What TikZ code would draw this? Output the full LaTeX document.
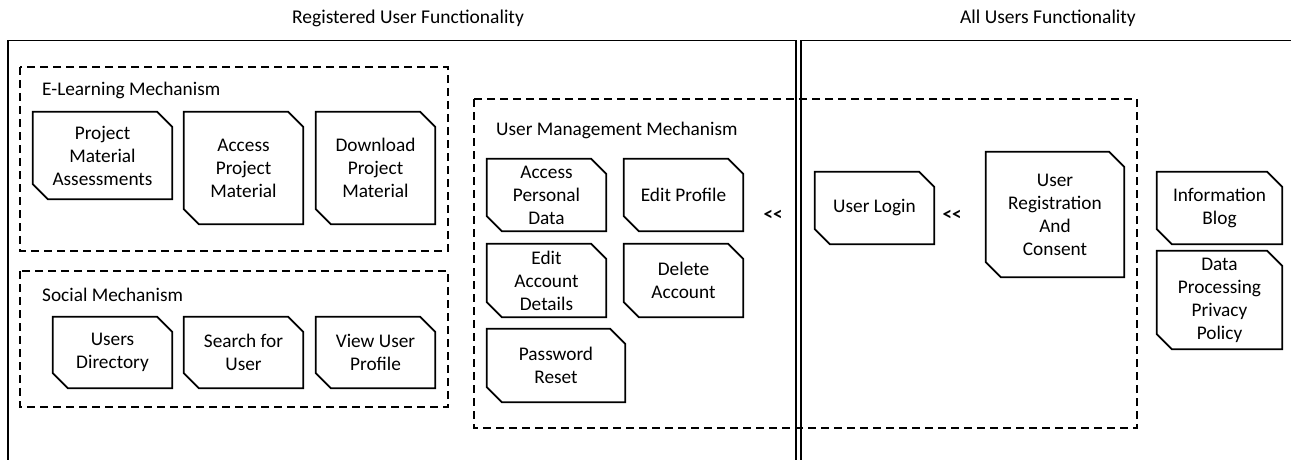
\documentclass[tikz,border=0pt]{standalone}
\usepackage{fontspec}
\setmainfont{Carlito}
\begin{document}
\begin{tikzpicture}[x=1pt,y=-1pt,
  card/.style={draw=none, align=center, inner sep=0pt, font=\fontsize{19.3}{23}\selectfont},
  cardline/.style={draw=black, line width=1.7pt, line join=miter},
  frame/.style={draw=black, line width=1.6pt},
  dashbox/.style={draw=black, line width=1.6pt, dash pattern=on 8pt off 5pt},
  lbl/.style={anchor=west, inner sep=0pt, font=\fontsize{19.3}{23}\selectfont},
  ttl/.style={inner sep=0pt, font=\fontsize{19.5}{23}\selectfont},
  sep/.style={inner sep=0pt, font=\bfseries\fontsize{19}{23}\selectfont}]
\useasboundingbox (0,0) rectangle (1291,460);
\clip (0,0) rectangle (1291,460);

% titles
\node[ttl] (t1) at (408,18) {Registered User Functionality};
\node[ttl] (t2) at (1048,18) {All Users Functionality};

% frames
\draw[frame] (8,470) -- (8,40.5) -- (796,40.5) -- (796,470);
\draw[frame] (801,470) -- (801,40.5) -- (1300,40.5);

% dashed containers
\draw[dashbox] (20,67) rectangle (448,251);
\draw[dashbox] (20,271) rectangle (448,407);
\draw[dashbox] (474,99) rectangle (1137,428);
\node[lbl] (l1) at (42,90) {E-Learning Mechanism};
\node[lbl] (l2) at (42,295) {Social Mechanism};
\node[lbl] (l3) at (496,130) {User Management Mechanism};

% E-learning
\node[card, minimum width=139, minimum height=87] (pma) at (102.5,155.5) {Project\\Material\\Assessments};
\node[card, minimum width=119, minimum height=112] (apm) at (243.5,168) {Access\\Project\\Material};
\node[card, minimum width=119, minimum height=112] (dpm) at (375.5,168) {Download\\Project\\Material};
% Social
\node[card, minimum width=119, minimum height=71] (ud) at (112.5,352.5) {Users\\Directory};
\node[card, minimum width=119, minimum height=71] (sfu) at (243.5,352.5) {Search for\\User};
\node[card, minimum width=119, minimum height=71] (vup) at (375.5,352.5) {View User\\Profile};
% User management
\node[card, minimum width=119, minimum height=72] (apd) at (546.5,195) {Access\\Personal\\Data};
\node[card, minimum width=119, minimum height=72] (ep) at (683.5,195) {Edit Profile};
\node[card, minimum width=119, minimum height=73] (ead) at (546.5,280.5) {Edit\\Account\\Details};
\node[card, minimum width=119, minimum height=73] (da) at (683.5,280.5) {Delete\\Account};
\node[card, minimum width=138, minimum height=73] (pr) at (556,365.5) {Password\\Reset};
% right side
\node[card, minimum width=119, minimum height=72] (ul) at (874.5,208) {User Login};
\node[card, minimum width=138, minimum height=125] (urc) at (1055,214.5) {User\\Registration\\And\\Consent};
\node[card, minimum width=125, minimum height=72] (ib) at (1219.5,208) {Information\\Blog};
\node[card, minimum width=125, minimum height=98] (dpp) at (1219.5,300) {Data\\Processing\\Privacy\\Policy};

\node[sep] (s1) at (773,215) {<{}<};
\node[sep] (s2) at (952,215) {<{}<};

\foreach \n in {pma,apm,dpm,ud,sfu,vup,apd,ep,ead,da,pr,ul,urc,ib,dpp}
  \draw[cardline] (\n.north west) -- ([xshift=-15pt]\n.north east) -- ([yshift=-15pt]\n.north east)
    -- (\n.south east) -- ([xshift=15pt]\n.south west) -- ([yshift=15pt]\n.south west) -- cycle;
\end{tikzpicture}
\end{document}
